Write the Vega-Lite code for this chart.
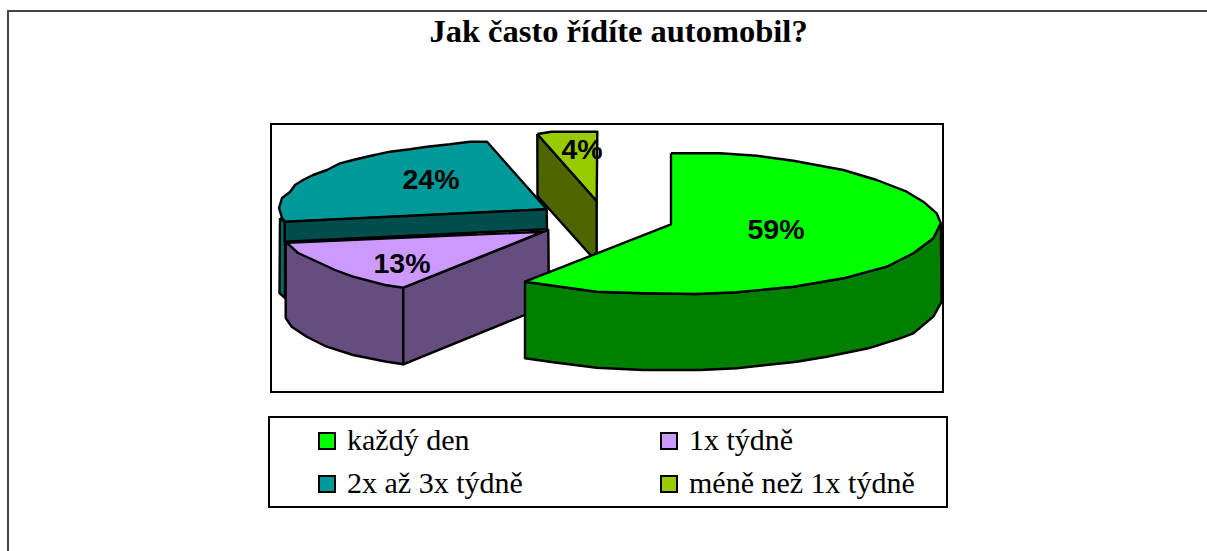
{"$schema":"https://vega.github.io/schema/vega-lite/v6.json","width":1207,"height":551,"padding":0,"autosize":"none","background":"white",
"title":{"text":"Jak často řídíte automobil?","font":"Liberation Serif","fontSize":32.5,"fontWeight":"bold","color":"black","anchor":"middle","dx":15,"dy":32,"offset":-42,"baseline":"alphabetic"},
"config":{"view":{"stroke":null}},
"datasets":{
"frames":[{"name":"frame","x":8,"x2":1215,"y":11,"y2":560,"c":"#444444"},{"name":"plot","x":271,"x2":943,"y":124,"y2":392,"c":"black"},{"name":"legend","x":269,"x2":947,"y":417,"y2":507,"c":"black"}],
"labels":[{"label":"59%","x":776,"y":230},{"label":"24%","x":431,"y":180},{"label":"13%","x":402,"y":264},{"label":"4%","x":582,"y":150}],
"faces":[
{"face":"a","s":"méně než 1x týdně – bok","i":0,"x":537.3,"y":134},{"face":"a","s":"méně než 1x týdně – bok","i":1,"x":596.7,"y":201},{"face":"a","s":"méně než 1x týdně – bok","i":2,"x":596.7,"y":262},{"face":"a","s":"méně než 1x týdně – bok","i":3,"x":537.5,"y":196},{"face":"a","s":"méně než 1x týdně – bok","i":4,"x":537.3,"y":134},
{"face":"b","s":"méně než 1x týdně","i":0,"x":537.3,"y":134},{"face":"b","s":"méně než 1x týdně","i":1,"x":551.7,"y":131.7},{"face":"b","s":"méně než 1x týdně","i":2,"x":597.3,"y":131.7},{"face":"b","s":"méně než 1x týdně","i":3,"x":596.7,"y":201},{"face":"b","s":"méně než 1x týdně","i":4,"x":537.3,"y":134},
{"face":"c","s":"2x až 3x týdně – okraj","i":0,"x":280,"y":218},{"face":"c","s":"2x až 3x týdně – okraj","i":1,"x":285,"y":222},{"face":"c","s":"2x až 3x týdně – okraj","i":2,"x":285,"y":298},{"face":"c","s":"2x až 3x týdně – okraj","i":3,"x":279.5,"y":293},{"face":"c","s":"2x až 3x týdně – okraj","i":4,"x":280,"y":218},
{"face":"d","s":"2x až 3x týdně","i":0,"x":546.7,"y":209.3},{"face":"d","s":"2x až 3x týdně","i":1,"x":487,"y":141.7},{"face":"d","s":"2x až 3x týdně","i":2,"x":470,"y":141.7},{"face":"d","s":"2x až 3x týdně","i":3,"x":450,"y":144.3},{"face":"d","s":"2x až 3x týdně","i":4,"x":427,"y":146.7},{"face":"d","s":"2x až 3x týdně","i":5,"x":410,"y":149.3},{"face":"d","s":"2x až 3x týdně","i":6,"x":390,"y":151.7},{"face":"d","s":"2x až 3x týdně","i":7,"x":370,"y":156},{"face":"d","s":"2x až 3x týdně","i":8,"x":353,"y":160},{"face":"d","s":"2x až 3x týdně","i":9,"x":340,"y":163.3},{"face":"d","s":"2x až 3x týdně","i":10,"x":327,"y":170},{"face":"d","s":"2x až 3x týdně","i":11,"x":313,"y":175},{"face":"d","s":"2x až 3x týdně","i":12,"x":303,"y":180},{"face":"d","s":"2x až 3x týdně","i":13,"x":295,"y":185},{"face":"d","s":"2x až 3x týdně","i":14,"x":290,"y":192},{"face":"d","s":"2x až 3x týdně","i":15,"x":282,"y":198},{"face":"d","s":"2x až 3x týdně","i":16,"x":279,"y":208},{"face":"d","s":"2x až 3x týdně","i":17,"x":282,"y":218},{"face":"d","s":"2x až 3x týdně","i":18,"x":285,"y":222},{"face":"d","s":"2x až 3x týdně","i":19,"x":546.7,"y":209.3},
{"face":"e","s":"2x až 3x týdně – bok","i":0,"x":284.7,"y":221.7},{"face":"e","s":"2x až 3x týdně – bok","i":1,"x":546.7,"y":209.3},{"face":"e","s":"2x až 3x týdně – bok","i":2,"x":547,"y":229.3},{"face":"e","s":"2x až 3x týdně – bok","i":3,"x":284.7,"y":241.7},{"face":"e","s":"2x až 3x týdně – bok","i":4,"x":284.7,"y":221.7},
{"face":"f","s":"1x týdně – bok","i":0,"x":285.7,"y":242.7},{"face":"f","s":"1x týdně – bok","i":1,"x":285.7,"y":318},{"face":"f","s":"1x týdně – bok","i":2,"x":291.7,"y":326.7},{"face":"f","s":"1x týdně – bok","i":3,"x":306.7,"y":336.7},{"face":"f","s":"1x týdně – bok","i":4,"x":326.7,"y":346.7},{"face":"f","s":"1x týdně – bok","i":5,"x":353,"y":355},{"face":"f","s":"1x týdně – bok","i":6,"x":386.7,"y":361.7},{"face":"f","s":"1x týdně – bok","i":7,"x":403.3,"y":364.3},{"face":"f","s":"1x týdně – bok","i":8,"x":403.3,"y":287.7},{"face":"f","s":"1x týdně – bok","i":9,"x":285.7,"y":242.7},
{"face":"g","s":"1x týdně – bok","i":0,"x":403.3,"y":287.7},{"face":"g","s":"1x týdně – bok","i":1,"x":548.3,"y":230},{"face":"g","s":"1x týdně – bok","i":2,"x":549,"y":305},{"face":"g","s":"1x týdně – bok","i":3,"x":403.3,"y":364.3},{"face":"g","s":"1x týdně – bok","i":4,"x":403.3,"y":287.7},
{"face":"h","s":"1x týdně","i":0,"x":286.7,"y":242.7},{"face":"h","s":"1x týdně","i":1,"x":543,"y":231.7},{"face":"h","s":"1x týdně","i":2,"x":403.3,"y":287.7},{"face":"h","s":"1x týdně","i":3,"x":385,"y":285},{"face":"h","s":"1x týdně","i":4,"x":353,"y":276.7},{"face":"h","s":"1x týdně","i":5,"x":335,"y":270},{"face":"h","s":"1x týdně","i":6,"x":320,"y":263},{"face":"h","s":"1x týdně","i":7,"x":298,"y":253},{"face":"h","s":"1x týdně","i":8,"x":286.7,"y":242.7},
{"face":"j","s":"každý den – bok","i":0,"x":525,"y":281.7},{"face":"j","s":"každý den – bok","i":1,"x":553.3,"y":285.7},{"face":"j","s":"každý den – bok","i":2,"x":596.7,"y":291.7},{"face":"j","s":"každý den – bok","i":3,"x":643.3,"y":293.3},{"face":"j","s":"každý den – bok","i":4,"x":696.7,"y":294},{"face":"j","s":"každý den – bok","i":5,"x":736.7,"y":292.3},{"face":"j","s":"každý den – bok","i":6,"x":793.3,"y":286.7},{"face":"j","s":"každý den – bok","i":7,"x":843.3,"y":278.3},{"face":"j","s":"každý den – bok","i":8,"x":886.7,"y":266.7},{"face":"j","s":"každý den – bok","i":9,"x":913.3,"y":253.3},{"face":"j","s":"každý den – bok","i":10,"x":933.3,"y":238.3},{"face":"j","s":"každý den – bok","i":11,"x":940.7,"y":223.3},{"face":"j","s":"každý den – bok","i":12,"x":941.7,"y":301.7},{"face":"j","s":"každý den – bok","i":13,"x":933.3,"y":316.7},{"face":"j","s":"každý den – bok","i":14,"x":913.3,"y":333.3},{"face":"j","s":"každý den – bok","i":15,"x":900,"y":338.3},{"face":"j","s":"každý den – bok","i":16,"x":868.3,"y":348.3},{"face":"j","s":"každý den – bok","i":17,"x":826.7,"y":356.7},{"face":"j","s":"každý den – bok","i":18,"x":796.7,"y":361.7},{"face":"j","s":"každý den – bok","i":19,"x":736.7,"y":368.3},{"face":"j","s":"každý den – bok","i":20,"x":700,"y":370},{"face":"j","s":"každý den – bok","i":21,"x":643.3,"y":370},{"face":"j","s":"každý den – bok","i":22,"x":596.7,"y":367.7},{"face":"j","s":"každý den – bok","i":23,"x":553.3,"y":362.3},{"face":"j","s":"každý den – bok","i":24,"x":525,"y":358.3},{"face":"j","s":"každý den – bok","i":25,"x":525,"y":281.7},
{"face":"k","s":"každý den","i":0,"x":671,"y":153.3},{"face":"k","s":"každý den","i":1,"x":720,"y":153.3},{"face":"k","s":"každý den","i":2,"x":756.7,"y":155.7},{"face":"k","s":"každý den","i":3,"x":793.3,"y":160.7},{"face":"k","s":"každý den","i":4,"x":843.3,"y":170},{"face":"k","s":"každý den","i":5,"x":876.7,"y":180},{"face":"k","s":"každý den","i":6,"x":906.7,"y":191.7},{"face":"k","s":"každý den","i":7,"x":923.3,"y":201.7},{"face":"k","s":"každý den","i":8,"x":936.7,"y":213.3},{"face":"k","s":"každý den","i":9,"x":940.7,"y":223.3},{"face":"k","s":"každý den","i":10,"x":933.3,"y":238.3},{"face":"k","s":"každý den","i":11,"x":913.3,"y":253.3},{"face":"k","s":"každý den","i":12,"x":886.7,"y":266.7},{"face":"k","s":"každý den","i":13,"x":843.3,"y":278.3},{"face":"k","s":"každý den","i":14,"x":793.3,"y":286.7},{"face":"k","s":"každý den","i":15,"x":736.7,"y":292.3},{"face":"k","s":"každý den","i":16,"x":696.7,"y":294},{"face":"k","s":"každý den","i":17,"x":643.3,"y":293.3},{"face":"k","s":"každý den","i":18,"x":596.7,"y":291.7},{"face":"k","s":"každý den","i":19,"x":553.3,"y":285.7},{"face":"k","s":"každý den","i":20,"x":525,"y":281.7},{"face":"k","s":"každý den","i":21,"x":671,"y":224.3},{"face":"k","s":"každý den","i":22,"x":671,"y":153.3}
]},
"layer":[
{"data":{"name":"frames"},"mark":{"type":"rect","fillOpacity":0,"strokeWidth":2,"fill":"white"},"encoding":{"x":{"field":"x","type":"quantitative","scale":{"domain":[0,1207],"nice":false,"zero":false},"axis":null},"x2":{"field":"x2"},"y":{"field":"y","type":"quantitative","scale":{"domain":[551,0],"nice":false,"zero":false},"axis":null},"y2":{"field":"y2"},"stroke":{"field":"c","type":"nominal","scale":null,"legend":null}}},
{"data":{"name":"faces"},"mark":{"type":"line","filled":true,"stroke":"black","strokeWidth":2.4,"strokeJoin":"round"},"encoding":{"x":{"field":"x","type":"quantitative","axis":null},"y":{"field":"y","type":"quantitative","axis":null},"order":{"field":"i"},"detail":{"field":"face"},"fill":{"field":"s","type":"nominal","sort":null,"scale":{"domain":["každý den","1x týdně","2x až 3x týdně","méně než 1x týdně","každý den – bok","1x týdně – bok","2x až 3x týdně – bok","2x až 3x týdně – okraj","méně než 1x týdně – bok"],"range":["#00ff00","#cc99ff","#009999","#99cc00","#007f00","#664d80","#004d4d","#006b6b","#4d6600"]},"legend":{"orient":"none","legendX":304,"legendY":418,"columns":2,"direction":"horizontal","title":null,"values":["každý den","1x týdně","2x až 3x týdně","méně než 1x týdně"],"symbolType":"square","symbolSize":256,"symbolStrokeColor":"black","symbolStrokeWidth":2,"symbolOpacity":1,"labelFont":"Liberation Serif","labelFontSize":30,"labelColor":"black","labelLimit":400,"labelOffset":5,"columnPadding":131,"rowPadding":13,"padding":8}}}},
{"data":{"name":"labels"},"mark":{"type":"text","font":"Liberation Sans","fontWeight":"bold","fontSize":28.5,"color":"black","align":"center","baseline":"middle"},"encoding":{"x":{"field":"x","type":"quantitative","axis":null},"y":{"field":"y","type":"quantitative","axis":null},"text":{"field":"label","type":"nominal"}}}
]}
